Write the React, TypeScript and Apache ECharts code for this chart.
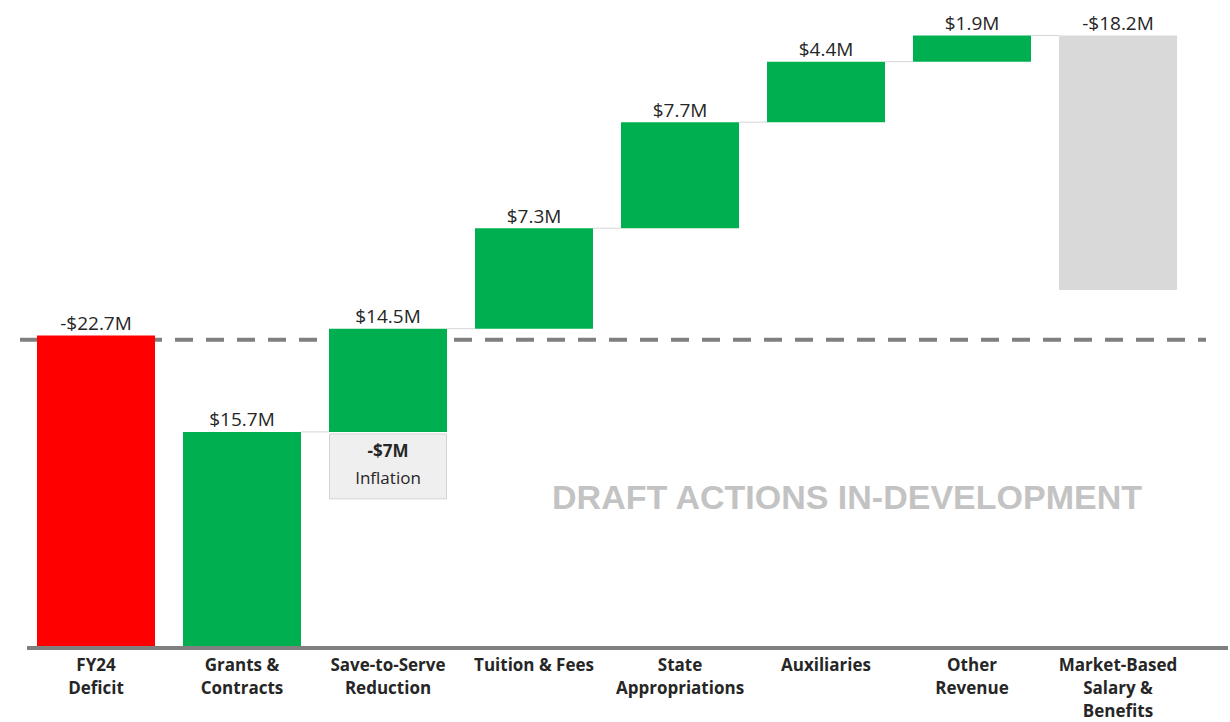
import React, { useEffect, useRef } from "react";
import * as echarts from "echarts";

const categories = [
  "FY24\nDeficit",
  "Grants &\nContracts",
  "Save-to-Serve\nReduction",
  "Tuition & Fees",
  "State\nAppropriations",
  "Auxiliaries",
  "Other\nRevenue",
  "Market-Based\nSalary &\nBenefits",
];
const baseValues = [0, 0, 15.7, 23.2, 30.5, 38.2, 42.6, 26.0];
const barValues = [22.7, 15.7, 7.5, 7.3, 7.7, 4.4, 1.9, 18.5];
const valueLabels = ["-$22.7M", "$15.7M", "$14.5M", "$7.3M", "$7.7M", "$4.4M", "$1.9M", "-$18.2M"];
const barColors = ["#ff0000", "#00b050", "#00b050", "#00b050", "#00b050", "#00b050", "#00b050", "#d9d9d9"];
// connector from bar i to bar i+1 at the given level
const connectors: [number, number][] = [
  [1, 15.7],
  [2, 23.2],
  [3, 30.5],
  [4, 38.2],
  [5, 42.6],
  [6, 44.5],
];
const deficitLevel = 22.4;
const inflationIndex = 2;
const inflationLevel = 15.7;
const inflationValue = "-$7M";
const inflationText = "Inflation";
const watermark = "DRAFT ACTIONS IN-DEVELOPMENT";

const BAR_W = 118;

export default function App() {
  const ref = useRef<HTMLDivElement>(null);
  useEffect(() => {
    document.body.style.margin = "0";
    const chart = echarts.init(ref.current!, undefined, { renderer: "svg" });
    const option: any = {
      animation: false,
      backgroundColor: "#ffffff",
      grid: { left: 23, right: 39, top: 28.6, bottom: 67 },
      xAxis: {
        type: "category",
        data: categories,
        axisLine: { show: false },
        axisTick: { show: false },
        splitLine: { show: false },
        axisLabel: {
          interval: 0,
          margin: 5,
          color: "#262626",
          fontFamily: "Open Sans",
          fontWeight: "bold",
          fontSize: 17,
          lineHeight: 23,
          verticalAlign: "top",
        },
      },
      yAxis: { type: "value", min: 0, max: 45, show: false },
      graphic: [
        {
          type: "text",
          x: 847,
          y: 497,
          z: 0,
          style: {
            text: watermark,
            fill: "#c3c3c3",
            font: "bold 34px 'Liberation Sans', Arial, sans-serif",
            align: "center",
            verticalAlign: "middle",
          },
        },
      ],
      series: [
        {
          type: "custom",
          z: 1,
          silent: true,
          data: [[0, deficitLevel]],
          renderItem: (params: any, api: any) => {
            const p = api.coord([0, api.value(1)]);
            return {
              type: "line",
              shape: { x1: 20, y1: p[1], x2: 1206, y2: p[1] },
              style: { stroke: "#7f7f7f", lineWidth: 4, lineDash: [18, 13] },
            };
          },
        },
        {
          type: "custom",
          z: 1,
          silent: true,
          data: connectors,
          renderItem: (params: any, api: any) => {
            const i = api.value(0);
            const p = api.coord([i, api.value(1)]);
            const step = api.size([1, 0])[0];
            return {
              type: "line",
              shape: { x1: p[0] + BAR_W / 2, y1: p[1], x2: p[0] + step - BAR_W / 2, y2: p[1] },
              style: { stroke: "#d6d6d6", lineWidth: 1 },
            };
          },
        },
        {
          type: "bar",
          stack: "w",
          barWidth: BAR_W,
          silent: true,
          z: 2,
          itemStyle: { color: "transparent" },
          data: baseValues,
        },
        {
          type: "bar",
          stack: "w",
          barWidth: BAR_W,
          silent: true,
          z: 2,
          data: barValues.map((v, i) => ({ value: v, itemStyle: { color: barColors[i] } })),
          label: {
            show: true,
            position: "top",
            distance: 3,
            color: "#262626",
            fontFamily: "Open Sans",
            fontSize: 19,
            formatter: (p: any) => valueLabels[p.dataIndex],
          },
        },
        {
          type: "custom",
          z: 3,
          silent: true,
          data: [[inflationIndex, inflationLevel]],
          renderItem: (params: any, api: any) => {
            const p = api.coord([api.value(0), api.value(1)]);
            return {
              type: "group",
              children: [
                {
                  type: "rect",
                  shape: { x: p[0] - BAR_W / 2 + 0.5, y: p[1] + 2, width: BAR_W - 1, height: 65 },
                  style: { fill: "#efefef", stroke: "#d4d4d4", lineWidth: 1 },
                },
                {
                  type: "text",
                  x: p[0],
                  y: p[1] + 19,
                  style: {
                    text: inflationValue,
                    fill: "#262626",
                    font: "bold 17px 'Open Sans', sans-serif",
                    align: "center",
                    verticalAlign: "middle",
                  },
                },
                {
                  type: "text",
                  x: p[0],
                  y: p[1] + 46,
                  style: {
                    text: inflationText,
                    fill: "#262626",
                    font: "17px 'Open Sans', sans-serif",
                    align: "center",
                    verticalAlign: "middle",
                  },
                },
              ],
            };
          },
        },
        {
          type: "custom",
          z: 3,
          silent: true,
          data: [[0, 0]],
          renderItem: (params: any, api: any) => {
            const p = api.coord([0, 0]);
            return {
              type: "line",
              shape: { x1: 27, y1: p[1], x2: 1228, y2: p[1] },
              style: { stroke: "#808080", lineWidth: 4 },
            };
          },
        },
      ],
    };
    chart.setOption(option);
    return () => chart.dispose();
  }, []);
  return <div ref={ref} style={{ width: 1230, height: 722 }} />;
}
